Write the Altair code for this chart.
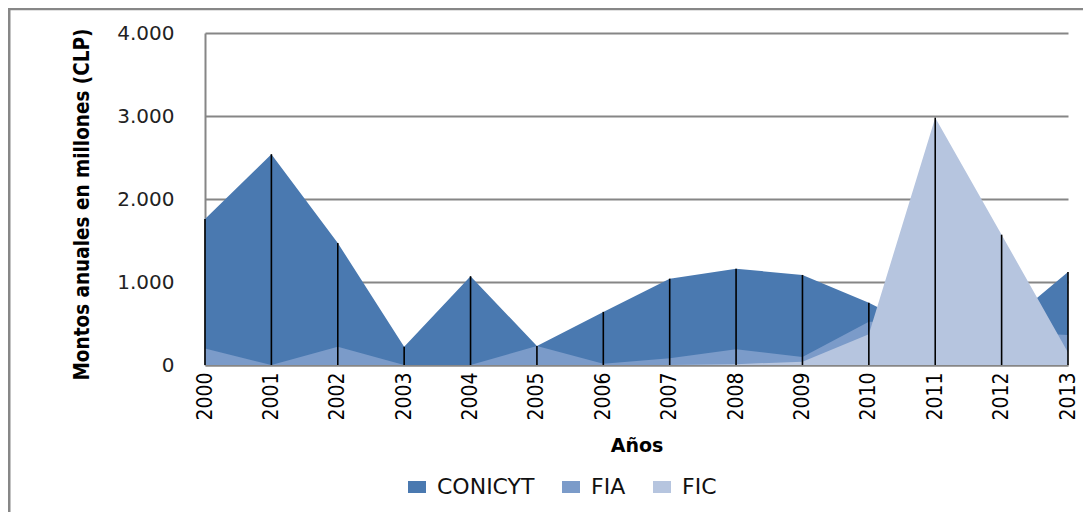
import altair as alt
import pandas as pd

years = list(range(2000, 2014))
series_names = ["CONICYT", "FIA", "FIC"]
conicyt = [1760, 2540, 1470, 220, 1070, 230, 640, 1040, 1160, 1085, 750, 350, 450, 1120]
fia = [200, 0, 220, 0, 0, 230, 15, 80, 190, 95, 520, 500, 400, 360]
fic = [0, 0, 0, 0, 0, 0, 0, 0, 10, 40, 370, 2980, 1570, 150]
colors = ["#4A79B0", "#7B9BC9", "#B6C5DF"]
y_ticks = [0, 1000, 2000, 3000, 4000]

rows = []
for name, vals in zip(series_names, [conicyt, fia, fic]):
    for yr, v in zip(years, vals):
        rows.append({"year": yr, "series": name, "value": v})
df = pd.DataFrame(rows)

W, H = 863, 332
GRID = "#868686"

color_enc = alt.Color(
    "series:N",
    scale=alt.Scale(domain=series_names, range=colors),
    legend=alt.Legend(
        title=None,
        orient="none",
        legendX=201,
        legendY=443,
        direction="horizontal",
        symbolType="M-1,-0.67L1,-0.67L1,0.67L-1,0.67Z",
        symbolSize=324,
        symbolStrokeWidth=0,
        labelFont="DejaVu Sans",
        labelFontSize=22,
        labelColor="#111111",
        labelOffset=9,
        columnPadding=25,
        padding=0,
    ),
)

x_axis = alt.Axis(
    title="Años",
    values=years,
    format="d",
    labelAngle=-90,
    labelAlign="right",
    labelBaseline="middle",
    labelPadding=7,
    labelFont="DejaVu Sans Condensed, sans-serif",
    labelFontSize=21,
    labelColor="#000000",
    ticks=False,
    grid=False,
    domainColor=GRID,
    domainWidth=2,
    titleFont="DejaVu Sans",
    titleFontSize=19,
    titleFontWeight="bold",
    titleColor="#000000",
    titlePadding=16,
)

y_axis = alt.Axis(
    title="Montos anuales en millones (CLP)",
    values=y_ticks,
    labelExpr="replace(format(datum.value, ','), ',', '.')",
    labelFont="DejaVu Sans",
    labelFontSize=20,
    labelColor="#222222",
    labelPadding=31,
    ticks=False,
    grid=True,
    gridColor=GRID,
    gridWidth=2,
    domainColor=GRID,
    domainWidth=2,
    titleFont="DejaVu Sans Condensed, sans-serif",
    titleFontSize=20.5,
    titleFontWeight="bold",
    titleColor="#000000",
    titleAngle=-90,
    titleAlign="center",
    titleBaseline="middle",
    titleX=-123,
    titleY=171,
)

x_scale = alt.Scale(domain=[2000, 2013], nice=False, zero=False)
y_scale = alt.Scale(domain=[0, 4000], nice=False)

layers = []
for name in series_names:
    layers.append(
        alt.Chart(df)
        .transform_filter(alt.datum.series == name)
        .mark_area(opacity=1, interpolate="linear")
        .encode(
            x=alt.X("year:Q", scale=x_scale, axis=x_axis),
            y=alt.Y("value:Q", stack=None, scale=y_scale, axis=y_axis),
            color=color_enc,
        )
    )

drops = (
    alt.Chart(df)
    .transform_aggregate(top="max(value)", groupby=["year"])
    .transform_calculate(value="datum.top")
    .mark_rule(color="#000000", strokeWidth=1.6)
    .encode(
        x=alt.X("year:Q", scale=x_scale, axis=x_axis),
        y=alt.Y("value:Q", scale=y_scale, axis=y_axis),
        y2=alt.datum(0),
    )
)

frame_df = pd.DataFrame({"k": [0]})
top_line = alt.Chart(frame_df).mark_rule(color="#878787", strokeWidth=2.5).encode(
    x=alt.value(-199), x2=alt.value(890), y=alt.value(-24)
)
left_line = alt.Chart(frame_df).mark_rule(color="#878787", strokeWidth=3).encode(
    x=alt.value(-196), y=alt.value(-25), y2=alt.value(490)
)

chart = (
    alt.layer(*layers, drops, top_line, left_line)
    .properties(
        width=W,
        height=H,
        padding={"left": 197, "top": 25, "right": 15, "bottom": 147},
        autosize=alt.AutoSizeParams(type="none"),
        background="#ffffff",
    )
    .configure_view(stroke=None)
)

chart.save("out.html", embed_options={"renderer": "svg", "actions": False})
